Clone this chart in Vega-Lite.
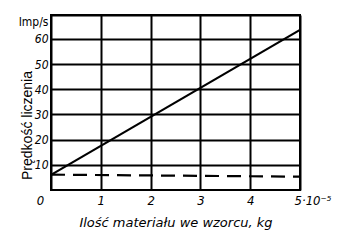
{
  "$schema": "https://vega.github.io/schema/vega-lite/v6.json",
  "width": 249,
  "height": 175,
  "autosize": "none",
  "padding": {"left": 51, "top": 15, "right": 42, "bottom": 53},
  "background": "white",
  "config": {
    "view": {"stroke": "black", "strokeWidth": 2},
    "axis": {"gridColor": "black", "gridWidth": 2, "gridOpacity": 1, "domain": false, "ticks": false, "labelColor": "black", "titleColor": "black"}
  },
  "data": {
    "values": [
      {"x": 0, "y": 6.0, "s": "solid"},
      {"x": 5, "y": 63.6, "s": "solid"},
      {"x": 0, "y": 6.1, "s": "dashed"},
      {"x": 5, "y": 5.3, "s": "dashed"}
    ]
  },
  "encoding": {
    "x": {
      "field": "x", "type": "quantitative",
      "scale": {"domain": [0, 5], "nice": false, "zero": false},
      "axis": {
        "values": [0, 1, 2, 3, 4, 5],
        "labelExpr": "datum.value == 5 ? '5·10⁻⁵' : datum.label",
        "labelFont": "DejaVu Sans Condensed",
        "labelFontStyle": "italic",
        "labelFontSize": 13,
        "labelPadding": 4,
        "labelAlign": {"condition": {"test": "datum.value == 5", "value": "left"}, "value": "center"},
        "labelOffset": {"condition": [{"test": "datum.value == 0", "value": -11}, {"test": "datum.value == 5", "value": -6}], "value": 0},
        "labelFlush": false,
        "labelOverlap": false,
        "title": "Ilość materiału we  wzorcu, kg",
        "titleFont": "DejaVu Sans",
        "titleFontStyle": "italic",
        "titleFontWeight": "normal",
        "titleFontSize": 13,
        "titlePadding": 9
      }
    },
    "y": {
      "field": "y", "type": "quantitative",
      "scale": {"domain": [0, 69.5], "nice": false, "zero": false},
      "axis": {
        "values": [10, 20, 30, 40, 50, 60, 69.5],
        "labelExpr": "datum.value > 65 ? 'Imp/s' : datum.label",
        "labelFont": "DejaVu Sans Condensed",
        "labelFontStyle": {"condition": {"test": "datum.value > 65", "value": "normal"}, "value": "italic"},
        "labelFontSize": 12,
        "labelPadding": 3,
        "labelBaseline": {"condition": {"test": "datum.value > 65", "value": "top"}, "value": "middle"},
        "labelOffset": {"condition": {"test": "datum.value > 65", "value": 1}, "value": 0},
        "labelFlush": false,
        "labelOverlap": false,
        "title": "Prędkość liczenia",
        "titleFont": "Liberation Sans",
        "titleFontWeight": "normal",
        "titleFontSize": 14,
        "titleAngle": -90,
        "titleX": -24,
        "titleY": 110,
        "titleAlign": "center",
        "titleBaseline": "middle"
      }
    },
    "detail": {"field": "s", "type": "nominal"}
  },
  "layer": [
    {
      "transform": [{"filter": "datum.s == 'solid'"}],
      "mark": {"type": "line", "color": "black", "strokeWidth": 2.2}
    },
    {
      "transform": [{"filter": "datum.s == 'dashed'"}],
      "mark": {"type": "line", "color": "black", "strokeWidth": 2.2, "strokeDash": [14, 8]}
    }
  ]
}
